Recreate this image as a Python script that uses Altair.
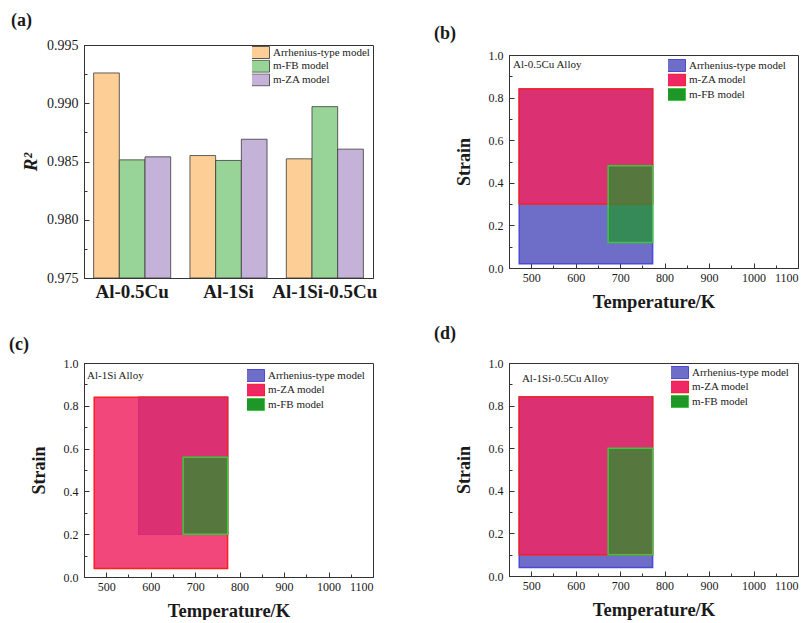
import altair as alt
import pandas as pd

SERIF = "Liberation Serif"
INK = "#1a1a1a"

# ---------------- panel (a) data ----------------
alloys = ["Al-0.5Cu", "Al-1Si", "Al-1Si-0.5Cu"]
bar_models = ["Arrhenius-type model", "m-FB model", "m-ZA model"]
r2_arrhenius = [0.9926, 0.98551, 0.98523]
r2_mfb = [0.98514, 0.98509, 0.98971]
r2_mza = [0.98540, 0.98691, 0.98606]
bar_colors = ["#fdce96", "#98d498", "#c4b2d8"]
r2_ticks = [0.975, 0.980, 0.985, 0.990, 0.995]
r2_minor = [0.9775, 0.9825, 0.9875, 0.9925]

# ---------------- panels (b)-(d) data ----------------
region_models = ["Arrhenius-type model", "m-ZA model", "m-FB model"]
region_fill = ["#6e6ec8", "#ef2764", "#1e9628"]
region_stroke = ["#4a4ad8", "#ff1e1e", "#3cc83c"]
region_alpha = [1.0, 0.7, 0.72]

temp_ticks = [500, 600, 700, 800, 900, 1000, 1100]
temp_minor = [550, 650, 750, 850, 950, 1050]
strain_ticks = [0.0, 0.2, 0.4, 0.6, 0.8, 1.0]
strain_minor = [0.1, 0.3, 0.5, 0.7, 0.9]

# (b) Al-0.5Cu
b_alloy = "Al-0.5Cu Alloy"
b_t_low = [473, 473, 673]
b_t_high = [773, 773, 773]
b_s_low = [0.02, 0.30, 0.12]
b_s_high = [0.84, 0.84, 0.48]
b_text_at = [459, 0.953]

# (c) Al-1Si
c_alloy = "Al-1Si Alloy"
c_t_low = [573, 473, 673]
c_t_high = [773, 773, 773]
c_s_low = [0.20, 0.04, 0.20]
c_s_high = [0.84, 0.84, 0.56]
c_text_at = [457, 0.939]

# (d) Al-1Si-0.5Cu
d_alloy = "Al-1Si-0.5Cu Alloy"
d_t_low = [473, 473, 673]
d_t_high = [773, 773, 773]
d_s_low = [0.04, 0.10, 0.10]
d_s_high = [0.84, 0.84, 0.60]
d_text_at = [479, 0.925]

W = 289
H_A = 233
H = 213
SWATCH = "M-4,-2H4V2H-4Z"


def tick_axis(orient, values, size):
    return alt.Axis(orient=orient, offset=-size, values=values, tickSize=size,
                    labels=False, domain=False, title=None, grid=False,
                    tickColor="#333", tickWidth=1)


def panel_title(letter, dx, offset):
    return alt.TitleParams(letter, anchor="start", frame="group", dx=dx, offset=offset,
                           font=SERIF, fontSize=18, fontWeight="bold", color=INK)


# ---------------- panel (a) ----------------
bar_df = pd.DataFrame({
    "alloy": alloys * 3,
    "model": [m for m in bar_models for _ in alloys],
    "r2": r2_arrhenius + r2_mfb + r2_mza,
})
ya = alt.Scale(domain=[0.975, 0.995], nice=False, zero=False)
xa = alt.Scale(paddingInner=0.2, paddingOuter=0.1)

bars = alt.Chart(bar_df).mark_bar(stroke="#3a3a3a", strokeWidth=0.8).encode(
    x=alt.X("alloy:N", sort=alloys, scale=xa,
            axis=alt.Axis(title=None, labelAngle=0, ticks=False, labelFontSize=19,
                          labelFontWeight="bold", labelPadding=4, labelOverlap=False)),
    xOffset=alt.XOffset("model:N", sort=bar_models,
                        scale=alt.Scale(paddingInner=0, paddingOuter=0)),
    y=alt.Y("r2:Q", scale=ya,
            axis=alt.Axis(title="R²", values=r2_ticks, format=".3f", ticks=False,
                          labelFontSize=14, labelPadding=6, titlePadding=6,
                          titleFontSize=19, titleFontStyle="italic")),
    y2=alt.datum(0.975),
    fill=alt.Fill("model:N", sort=bar_models,
                  scale=alt.Scale(domain=bar_models, range=bar_colors),
                  legend=alt.Legend(title=None, orient="none", legendX=168, legendY=1,
                                    symbolType=SWATCH, symbolSize=36,
                                    symbolStrokeColor="#333", symbolStrokeWidth=0.8,
                                    labelOffset=10, clipHeight=13, rowPadding=0.7, padding=0,
                                    labelFont=SERIF, labelFontSize=11, labelColor=INK)),
)
a_major = alt.Chart(bar_df).mark_point(opacity=0).encode(
    x=alt.X("alloy:N", sort=alloys, scale=xa, axis=None),
    y=alt.Y("r2:Q", scale=ya, axis=tick_axis("left", r2_ticks, 5)))
a_minor = alt.Chart(bar_df).mark_point(opacity=0).encode(
    x=alt.X("alloy:N", sort=alloys, scale=xa, axis=None),
    y=alt.Y("r2:Q", scale=ya, axis=tick_axis("left", r2_minor, 3)))

panel_a = alt.layer(bars, a_major, a_minor).resolve_axis(
    x="independent", y="independent").properties(
    width=W, height=H_A, title=panel_title("(a)", -73, 8))


# ---------------- panels (b)-(d) ----------------
def region_panel(letter, alloy_text, text_at, t_low, t_high, s_low, s_high,
                 legend_xy, title_dx, title_offset, height):
    df = pd.DataFrame({"model": region_models, "t0": t_low, "t1": t_high,
                       "s0": s_low, "s1": s_high})
    xs = alt.Scale(domain=[450, 1100], nice=False, zero=False)
    ys = alt.Scale(domain=[0, 1], nice=False)
    leg = alt.Legend(title=None, orient="none", legendX=legend_xy[0], legendY=legend_xy[1],
                     symbolType=SWATCH, symbolSize=36, symbolStrokeWidth=1,
                     labelOffset=10, clipHeight=13, rowPadding=1.5, padding=0,
                     labelFont=SERIF, labelFontSize=11, labelColor=INK)
    rects = alt.Chart(df).mark_rect(strokeWidth=1.5).encode(
        x=alt.X("t0:Q", scale=xs,
                axis=alt.Axis(title="Temperature/K", values=temp_ticks, format="d", ticks=False,
                              labelPadding=4, titlePadding=9, titleFontSize=18.5,
                              labelFontSize=12)),
        x2="t1:Q",
        y=alt.Y("s0:Q", scale=ys,
                axis=alt.Axis(title="Strain", values=strain_ticks, format=".1f", ticks=False,
                              labelPadding=6, titlePadding=15, titleFontSize=18,
                              labelFontSize=12)),
        y2="s1:Q",
        fill=alt.Fill("model:N", sort=region_models,
                      scale=alt.Scale(domain=region_models, range=region_fill), legend=leg),
        stroke=alt.Stroke("model:N", sort=region_models,
                          scale=alt.Scale(domain=region_models, range=region_stroke), legend=leg),
        fillOpacity=alt.FillOpacity("model:N", sort=region_models,
                                    scale=alt.Scale(domain=region_models, range=region_alpha),
                                    legend=None),
    )
    txt_df = pd.DataFrame({"t": [text_at[0]], "s": [text_at[1]], "label": [alloy_text]})
    text = alt.Chart(txt_df).mark_text(align="left", baseline="middle", font=SERIF,
                                       fontSize=11, color=INK).encode(
        x=alt.X("t:Q", scale=xs, axis=None),
        y=alt.Y("s:Q", scale=ys, axis=None),
        text="label:N")
    major = alt.Chart(df).mark_point(opacity=0).encode(
        x=alt.X("t0:Q", scale=xs, axis=tick_axis("bottom", temp_ticks, 5)),
        y=alt.Y("s0:Q", scale=ys, axis=tick_axis("left", strain_ticks, 5)))
    minor = alt.Chart(df).mark_point(opacity=0).encode(
        x=alt.X("t1:Q", scale=xs, axis=tick_axis("bottom", temp_minor, 3)),
        y=alt.Y("s1:Q", scale=ys, axis=tick_axis("left", strain_minor, 3)))
    return alt.layer(rects, text, major, minor).resolve_axis(
        x="independent", y="independent").properties(
        width=W, height=height, title=panel_title(letter, title_dx, title_offset))


panel_b = region_panel("(b)", b_alloy, b_text_at, b_t_low, b_t_high, b_s_low, b_s_high,
                       (159, 4), -75, 6, H)
panel_c = region_panel("(c)", c_alloy, c_text_at, c_t_low, c_t_high, c_s_low, c_s_high,
                       (163, 6), -75, 3, 214)
panel_d = region_panel("(d)", d_alloy, d_text_at, d_t_low, d_t_high, d_s_low, d_s_high,
                       (162, 3), -75, 14, H)

chart = alt.concat(
    panel_a, panel_b, panel_c, panel_d,
    columns=2, spacing={"row": 85, "column": 136}, bounds="flush", center=True, align="each",
).resolve_scale(
    fill="independent", stroke="independent", fillOpacity="independent",
    x="independent", y="independent",
).resolve_legend(
    fill="independent", stroke="independent",
).properties(
    padding={"left": 8, "top": 11, "right": 0, "bottom": 0},
    background="white",
).configure_view(
    stroke="#333", strokeWidth=1,
).configure_axis(
    labelFont=SERIF, titleFont=SERIF, labelColor=INK, titleColor=INK,
    titleFontWeight="bold", domainColor="#333", tickColor="#333", grid=False,
)

chart.save("out.html", embed_options={"renderer": "svg", "actions": False})
